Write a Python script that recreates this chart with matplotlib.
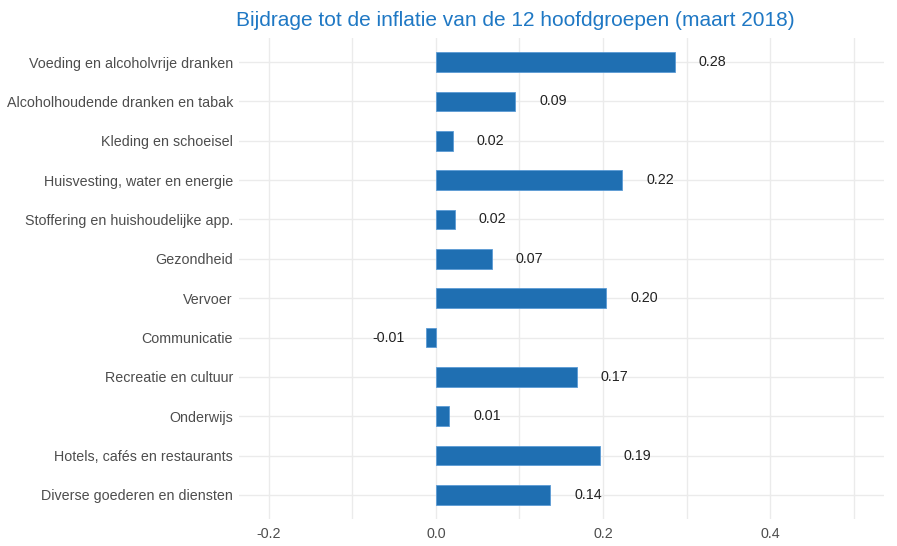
import numpy as np
import matplotlib
matplotlib.use("Agg")
import matplotlib.pyplot as plt
from matplotlib.ticker import MultipleLocator

plt.rcParams['font.family'] = ['Liberation Sans', 'DejaVu Sans']

groups = [
    "Voeding en alcoholvrije dranken",
    "Alcoholhoudende dranken en tabak",
    "Kleding en schoeisel",
    "Huisvesting, water en energie",
    "Stoffering en huishoudelijke app.",
    "Gezondheid",
    "Vervoer",
    "Communicatie",
    "Recreatie en cultuur",
    "Onderwijs",
    "Hotels, cafés en restaurants",
    "Diverse goederen en diensten",
]
bijdrage = [0.286, 0.095, 0.020, 0.223, 0.023, 0.067, 0.204, -0.012, 0.169, 0.016, 0.196, 0.137]
labels = ["0.28", "0.09", "0.02", "0.22", "0.02", "0.07", "0.20", "-0.01", "0.17", "0.01", "0.19", "0.14"]

fig = plt.figure(figsize=(8.97, 5.46), dpi=100)
ax = fig.add_axes([0.2659, 0.0502, 0.7196, 0.8795])

y = np.arange(len(groups))
ax.barh(y, bijdrage, height=0.5, color='#1f6fb2', edgecolor='#5b9bd5', linewidth=0.6, zorder=3)

for yi, v, lab in zip(y, bijdrage, labels):
    off = 0.045 if v >= 0 else -0.045
    ax.text(v + off, yi, lab, ha='center', va='center', fontsize=10.3, color='#222222')

ax.set_yticks(y)
ax.set_yticklabels(groups, fontsize=10.3, color='#4d4d4d')
ax.set_ylim(len(groups) - 0.4, -0.6)
ax.set_xlim(-0.236, 0.536)
ax.set_xticks([-0.2, 0.0, 0.2, 0.4])
ax.set_xticklabels(["-0.2", "0.0", "0.2", "0.4"], fontsize=10.3, color='#4d4d4d')
ax.xaxis.set_minor_locator(MultipleLocator(0.1))

ax.grid(True, which='both', axis='both', color='#ebebeb', linewidth=1.0, zorder=0)
ax.tick_params(axis='y', length=0, which='both', pad=4)
ax.tick_params(axis='x', length=0, which='both', pad=6)
for s in ax.spines.values():
    s.set_visible(False)

fig.suptitle("Bijdrage tot de inflatie van de 12 hoofdgroepen (maart 2018)",
             x=0.575, y=0.98, fontsize=15, color='#1f78c4')

fig.savefig("out.png", dpi=100)
